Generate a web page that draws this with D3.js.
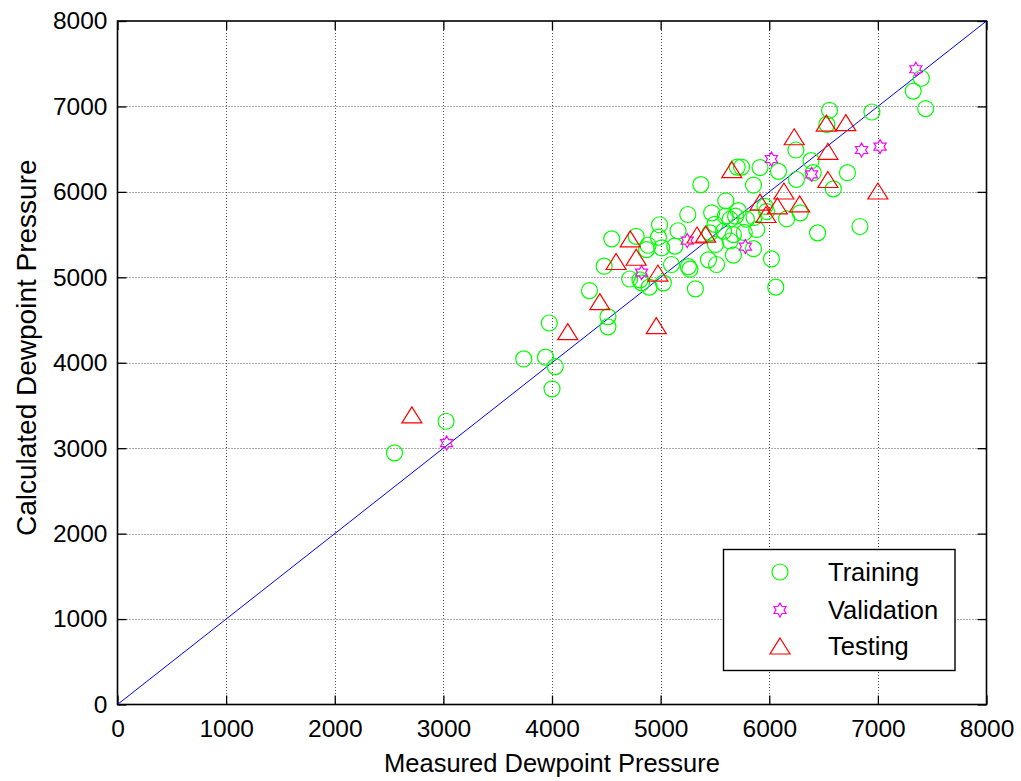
<!DOCTYPE html>
<html>
<head>
<meta charset="utf-8">
<script src="https://cdn.jsdelivr.net/npm/d3@7"></script>
<style>
  html, body { margin: 0; padding: 0; background: #fff; }
  svg { display: block; font-family: "Liberation Sans", Arial, sans-serif; }
</style>
</head>
<body>
<svg id="chart" width="1021" height="781"></svg>
<script>
// Measured vs. calculated dewpoint pressure, [measured, calculated]
const trainingPoints = [
  [2550, 2945], [3025, 3315], [3740, 4045], [3940, 4065], [3975, 4465],
  [4000, 3695], [4030, 3955], [4345, 4845], [4480, 5130], [4515, 4540],
  [4515, 4420], [4550, 5450], [4715, 4980], [4775, 5480], [4810, 4970],
  [4825, 4935], [4870, 5325], [4885, 5375], [4895, 4885], [4980, 5470],
  [4990, 5615], [5010, 5345], [5025, 4935], [5100, 5150], [5130, 5365],
  [5160, 5545], [5250, 5735], [5255, 5125], [5270, 5095], [5320, 4865],
  [5370, 6085], [5440, 5205], [5455, 5520], [5470, 5755], [5500, 5620],
  [5505, 5385], [5515, 5150], [5580, 5540], [5595, 5715], [5600, 5895],
  [5640, 5680], [5640, 5425], [5670, 5500], [5670, 5260], [5690, 5715],
  [5715, 5780], [5705, 6290], [5745, 6290], [5770, 5525], [5790, 5680],
  [5860, 5700], [5855, 6080], [5855, 5335], [5885, 5560], [5915, 6285],
  [5960, 5830], [5975, 5770], [6020, 5215], [6060, 4885], [6085, 6240],
  [6160, 5685], [6245, 6490], [6250, 6145], [6285, 5755], [6385, 6365],
  [6405, 6225], [6445, 5520], [6530, 6790], [6555, 6955], [6590, 6035],
  [6720, 6225], [6835, 5595], [6945, 6935], [7325, 7180], [7400, 7330],
  [7440, 6975]
];
const validationPoints = [
  [3030, 3060], [4825, 5055], [5245, 5430], [5780, 5360], [6020, 6385],
  [6390, 6205], [6850, 6490], [7020, 6530], [7350, 7435]
];
const testingPoints = [
  [2710, 3390], [4145, 4365], [4440, 4715], [4590, 5185], [4720, 5450],
  [4775, 5235], [4960, 4435], [4975, 5050], [5335, 5495], [5415, 5505],
  [5655, 6260], [5915, 5880], [5970, 5735], [6075, 5835], [6135, 6010],
  [6230, 6645], [6280, 5860], [6525, 6805], [6540, 6475], [6540, 6145],
  [6705, 6810], [7000, 6010]
];
const xTicks = [0, 1000, 2000, 3000, 4000, 5000, 6000, 7000, 8000];
const yTicks = [0, 1000, 2000, 3000, 4000, 5000, 6000, 7000, 8000];
const legendLabels = ["Training", "Validation", "Testing"];
const axisTitles = ["Measured Dewpoint Pressure", "Calculated Dewpoint Pressure"];

const svg = d3.select("#chart");
const plot = { left: 117.5, right: 986.5, top: 21, bottom: 704.5 };
const tickFont = 24.5;
const titleFont = 25.5;
const yTitleFont = 28;

const x = d3.scaleLinear().domain([0, 8000]).range([plot.left, plot.right]);
const y = d3.scaleLinear().domain([0, 8000]).range([plot.bottom, plot.top]);

// dotted grid
const grid = svg.append("g")
  .attr("stroke", "#555").attr("stroke-width", 1).attr("stroke-dasharray", "1,2");
grid.selectAll("line.vx").data(xTicks.slice(1, -1)).join("line")
  .attr("x1", d => Math.round(x(d)) + 0.5).attr("x2", d => Math.round(x(d)) + 0.5)
  .attr("y1", plot.top).attr("y2", plot.bottom);
grid.selectAll("line.hy").data(yTicks.slice(1, -1)).join("line")
  .attr("y1", d => Math.round(y(d)) + 0.5).attr("y2", d => Math.round(y(d)) + 0.5)
  .attr("x1", plot.left).attr("x2", plot.right);

// axes with inward ticks on all four sides
const tickLen = 9;
const fmt = d3.format("d");
const axB = d3.axisBottom(x).tickValues(xTicks).tickFormat(fmt).tickSizeInner(-tickLen).tickSizeOuter(0).tickPadding(tickLen + 6);
const axT = d3.axisTop(x).tickValues(xTicks).tickSizeInner(-tickLen).tickSizeOuter(0).tickFormat("");
const axL = d3.axisLeft(y).tickValues(yTicks).tickFormat(fmt).tickSizeInner(-tickLen).tickSizeOuter(0).tickPadding(tickLen + 1);
const axR = d3.axisRight(y).tickValues(yTicks).tickSizeInner(-tickLen).tickSizeOuter(0).tickFormat("");

function styleAxis(g) {
  g.select(".domain").remove();
  g.selectAll(".tick line").attr("stroke", "#000").attr("stroke-width", 1.3);
  g.selectAll(".tick text").attr("fill", "#000").style("font-size", tickFont + "px")
    .style("font-family", "'Liberation Sans', Arial, sans-serif");
}
svg.append("g").attr("transform", `translate(0,${plot.bottom})`).call(axB).call(styleAxis);
svg.append("g").attr("transform", `translate(0,${plot.top})`).call(axT).call(styleAxis);
svg.append("g").attr("transform", `translate(${plot.left},0)`).call(axL).call(styleAxis);
svg.append("g").attr("transform", `translate(${plot.right},0)`).call(axR).call(styleAxis);

// plot frame
svg.append("rect")
  .attr("x", plot.left).attr("y", plot.top)
  .attr("width", plot.right - plot.left).attr("height", plot.bottom - plot.top)
  .attr("fill", "none").attr("stroke", "#000").attr("stroke-width", 1.6);

// y = x reference line
svg.append("line")
  .attr("x1", x(0)).attr("y1", y(0)).attr("x2", x(8000)).attr("y2", y(8000))
  .attr("stroke", "#0000ff").attr("stroke-width", 1);

// marker shapes
function hexagram(R) {
  const r = R / Math.sqrt(3);
  const pts = [];
  for (let i = 0; i < 12; i++) {
    const a = -Math.PI / 2 + i * Math.PI / 6;
    const rad = i % 2 === 0 ? R : r;
    pts.push([rad * Math.cos(a), rad * Math.sin(a)]);
  }
  return "M" + pts.map(p => p[0].toFixed(2) + "," + p[1].toFixed(2)).join("L") + "Z";
}
function triangle(w, h) {
  return `M0,${-h / 2}L${w / 2},${h / 2}L${-w / 2},${h / 2}Z`;
}
const shapes = {
  circle: g => g.append("circle").attr("r", 8).attr("stroke", "#00ff00"),
  star: g => g.append("path").attr("d", hexagram(7)).attr("stroke", "#ff00ff"),
  tri: g => g.append("path").attr("d", triangle(20, 16)).attr("stroke", "#ff0000")
};

function drawSeries(data, kind) {
  const g = svg.append("g").attr("fill", "none").attr("stroke-width", 1.2);
  g.selectAll("g").data(data).join("g")
    .attr("transform", d => `translate(${x(d[0])},${y(d[1])})`)
    .each(function () { shapes[kind](d3.select(this)); });
}
drawSeries(trainingPoints, "circle");
drawSeries(validationPoints, "star");
drawSeries(testingPoints, "tri");

// axis titles
svg.append("text")
  .attr("x", (plot.left + plot.right) / 2).attr("y", 772)
  .attr("text-anchor", "middle").style("font-size", titleFont + "px")
  .text(axisTitles[0]);
svg.append("text")
  .attr("transform", `translate(36,${(plot.top + plot.bottom) / 2 - 15}) rotate(-90)`)
  .attr("text-anchor", "middle").style("font-size", yTitleFont + "px")
  .text(axisTitles[1]);

// legend
const legend = svg.append("g");
legend.append("rect")
  .attr("x", 723.5).attr("y", 549.5).attr("width", 231.5).attr("height", 121)
  .attr("fill", "#fff").attr("stroke", "#000").attr("stroke-width", 1.4);
const legendKinds = ["circle", "star", "tri"];
const legendRows = [572, 610, 646];
legendLabels.forEach((label, i) => {
  const row = legend.append("g").attr("transform", `translate(780,${legendRows[i]})`)
    .attr("fill", "none").attr("stroke-width", 1.2);
  shapes[legendKinds[i]](row);
  legend.append("text")
    .attr("x", 828).attr("y", legendRows[i]).attr("dy", "0.36em")
    .style("font-size", titleFont + "px").attr("fill", "#000")
    .text(label);
});
</script>
</body>
</html>
